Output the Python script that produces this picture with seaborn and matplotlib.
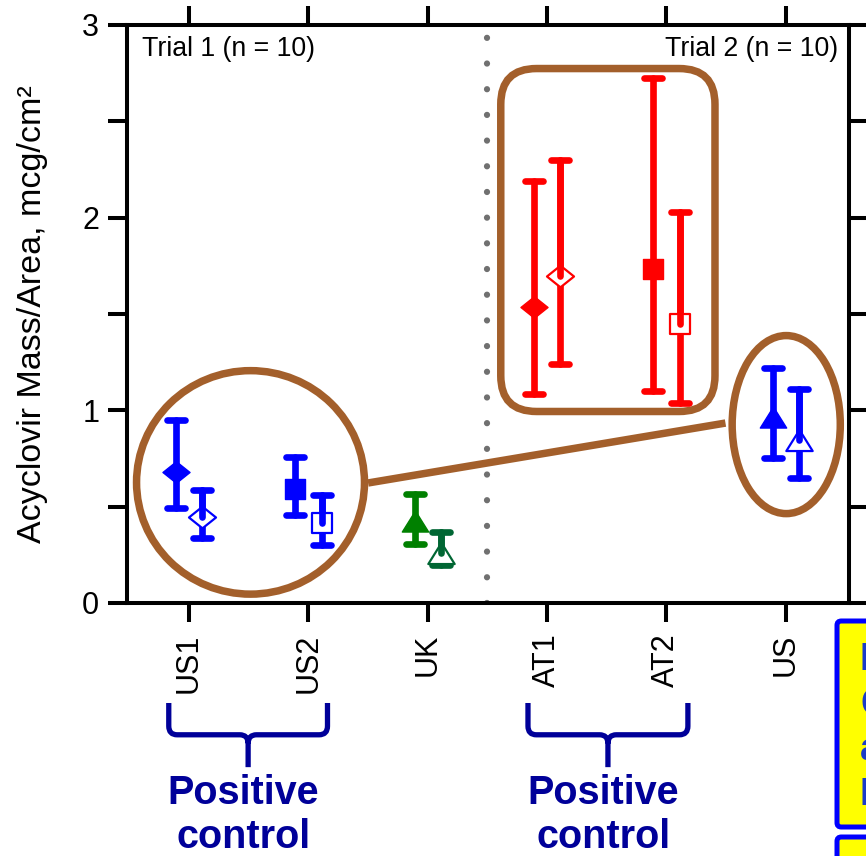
import matplotlib
matplotlib.use("Agg")
import matplotlib.pyplot as plt
import matplotlib.transforms as mtransforms
from matplotlib.markers import MarkerStyle
from matplotlib.patches import Ellipse, FancyBboxPatch, PathPatch
from matplotlib.path import Path
from matplotlib.ticker import NullLocator
import seaborn as sns

# ---- data -------------------------------------------------------------
products = ["US1", "US2", "UK", "AT1", "AT2", "US"]
shapes = ["diamond", "square", "triangle", "diamond", "square", "triangle"]
filled_colors = ["#0000FF", "#0000FF", "#008000", "#FF0000", "#FF0000", "#0000FF"]
open_colors = ["#0000FF", "#0000FF", "#006633", "#FF0000", "#FF0000", "#0000FF"]

# filled symbols (first replicate set)
filled_mean = [0.680, 0.592, 0.425, 1.536, 1.733, 0.964]
filled_low = [0.493, 0.457, 0.306, 1.085, 1.100, 0.751]
filled_high = [0.950, 0.758, 0.565, 2.190, 2.724, 1.218]

# open symbols (second replicate set)
open_mean = [0.446, 0.415, 0.262, 1.695, 1.450, 0.845]
open_low = [0.337, 0.301, 0.197, 1.240, 1.038, 0.648]
open_high = [0.586, 0.560, 0.368, 2.299, 2.029, 1.109]

trial_labels = ["Trial 1 (n = 10)", "Trial 2 (n = 10)"]
group_label = "Positive\ncontrol"
side_lines = ["In", "Co", "an", "Lo"]

# ---- style ------------------------------------------------------------
sns.set_theme(style="ticks")
plt.rcParams["font.family"] = ["Liberation Sans", "DejaVu Sans"]

BROWN = "#A35F2B"
NAVY = "#000099"
BAR_LW = 4.8
CAP = 6.8
OFFSET = 0.11

diamond = Path([(-1.25, 0), (0, 1), (1.25, 0), (0, -1), (-1.25, 0)], closed=True)
triangle = Path([(0, 0.8), (-1, -0.8), (1, -0.8), (0, 0.8)], closed=True)
marker_map = {"diamond": (diamond, 380), "square": ("s", 215), "triangle": (triangle, 360)}

fig = plt.figure(figsize=(8.66, 8.56), dpi=100)
ax = fig.add_axes([127 / 866, 1 - 603 / 856, (849 - 127) / 866, (603 - 25) / 856])


def draw_bar(x, mean, low, high, color, z, upper_only=False):
    if upper_only:
        eb = ax.errorbar([x], [mean], yerr=[[0], [high - mean]], fmt="none",
                         ecolor=color, elinewidth=BAR_LW, capsize=0, zorder=z)
    else:
        eb = ax.errorbar([x], [mean], yerr=[[mean - low], [high - mean]], fmt="none",
                         ecolor=color, elinewidth=BAR_LW, capsize=CAP,
                         capthick=BAR_LW, zorder=z)
        for cap in eb[1]:
            cap.set_marker(MarkerStyle("_", capstyle="round"))
    for coll in eb[2]:
        coll.set_capstyle("round")


for i, name in enumerate(products):
    marker, size = marker_map[shapes[i]]
    # filled symbol
    xf = i - OFFSET
    draw_bar(xf, filled_mean[i], filled_low[i], filled_high[i], filled_colors[i], 2)
    sns.scatterplot(x=[xf], y=[filled_mean[i]], marker=marker, s=size,
                    color=filled_colors[i], edgecolor=filled_colors[i],
                    linewidth=1, ax=ax, zorder=3)
    # open symbol
    xo = i + OFFSET
    draw_bar(xo, open_mean[i], open_low[i], open_high[i], open_colors[i], 2)
    sns.scatterplot(x=[xo], y=[open_mean[i]], marker=marker, s=size,
                    facecolor="white", edgecolor=open_colors[i],
                    linewidth=1.6, ax=ax, zorder=3)
    draw_bar(xo, open_mean[i], open_low[i], open_high[i], open_colors[i], 4,
             upper_only=True)

# trial separator
ax.axvline(2.5, color="#707070", lw=4.5, linestyle=(0, (0.01, 4.1)),
           dash_capstyle="round", zorder=1)

# highlight shapes
ax.add_patch(Ellipse((0.515, 0.626), 1.91, 1.16, fill=False, ec=BROWN, lw=5.4, zorder=1.5))
ax.add_patch(Ellipse((5.004, 0.926), 0.906, 0.924, fill=False, ec=BROWN, lw=5.4, zorder=1.5))
ax.add_patch(FancyBboxPatch((2.612, 0.994), 4.407 - 2.612, 2.774 - 0.994,
                            boxstyle="round,pad=0,rounding_size=0.3",
                            mutation_aspect=119.2 / 192.7,
                            fill=False, ec=BROWN, lw=5.4, zorder=1.5))
ax.plot([1.50, 4.495], [0.623, 0.934], color=BROWN, lw=5.4,
        solid_capstyle="butt", zorder=1.5)

# axes
ax.set_xlim(-0.52, 5.53)
ax.set_ylim(0, 3)
ax.set_xticks(range(len(products)))
ax.set_xticklabels(products, rotation=90)
ax.xaxis.set_minor_locator(NullLocator())
ax.set_yticks([0, 1, 2, 3])
ax.set_yticks([0.5, 1.5, 2.5], minor=True)
ax.tick_params(axis="both", which="both", direction="out", length=14, width=2.9,
               color="black", top=True, right=True)
ax.tick_params(axis="y", which="major", labelsize=22, pad=6, labelcolor="black")
ax.tick_params(axis="x", labelsize=22, pad=8, labelcolor="black")
for sp in ax.spines.values():
    sp.set_visible(True)
    sp.set_linewidth(2.9)
    sp.set_color("black")
ax.set_ylabel("Acyclovir Mass/Area, mcg/cm²", fontsize=24.5, color="black")
ax.yaxis.set_label_coords(-0.11, 0.50)
ax.set_xlabel("")

ax.text(0.021, 0.946, trial_labels[0], transform=ax.transAxes, fontsize=19.3,
        ha="left", va="baseline", color="black")
ax.text(0.985, 0.946, trial_labels[1], transform=ax.transAxes, fontsize=19.3,
        ha="right", va="baseline", color="black")

# braces grouping the positive controls
blend = mtransforms.blended_transform_factory(ax.transData, ax.transAxes)


def brace(x0, x1):
    xc = (x0 + x1) / 2
    ytop, yh, ytip = -0.173, -0.228, -0.284
    rx, ry = 0.07, 0.015
    verts = [(x0, ytop), (x0, yh + ry), (x0, yh), (x0 + rx, yh), (xc - rx, yh),
             (xc, yh), (xc, yh - ry), (xc, ytip),
             (xc, yh - ry), (xc, yh), (xc + rx, yh), (x1 - rx, yh),
             (x1, yh), (x1, yh + ry), (x1, ytop)]
    codes = [Path.MOVETO, Path.LINETO, Path.CURVE3, Path.CURVE3, Path.LINETO,
             Path.CURVE3, Path.CURVE3, Path.LINETO,
             Path.MOVETO, Path.CURVE3, Path.CURVE3, Path.LINETO,
             Path.CURVE3, Path.CURVE3, Path.LINETO]
    ax.add_patch(PathPatch(Path(verts, codes), fill=False, ec=NAVY, lw=3.8,
                           transform=blend, clip_on=False, joinstyle="round"))
    ax.text(xc - 0.04, -0.296, group_label, transform=blend, ha="center", va="top",
            fontsize=28.5, fontweight="bold", color=NAVY, linespacing=1.2,
            clip_on=False)


brace(-0.17, 1.16)
brace(2.84, 4.18)

# neighbouring note boxes
for (y0, y1) in [(1 - 827 / 856, 1 - 621 / 856), (-0.1, 1 - 837 / 856)]:
    fig.patches.append(FancyBboxPatch((837 / 866, y0), 0.2, y1 - y0,
                                      boxstyle="round,pad=0,rounding_size=0.005",
                                      transform=fig.transFigure, fc="#FFFF00",
                                      ec="#0000FF", lw=3.6, figure=fig))
for k, line in enumerate(side_lines):
    fig.text(860 / 866, 1 - (670 + 45 * k) / 856, line, ha="left", va="baseline",
             fontsize=27, fontweight="bold", color="#1A3CC8")

fig.savefig("out.png", dpi=100)
